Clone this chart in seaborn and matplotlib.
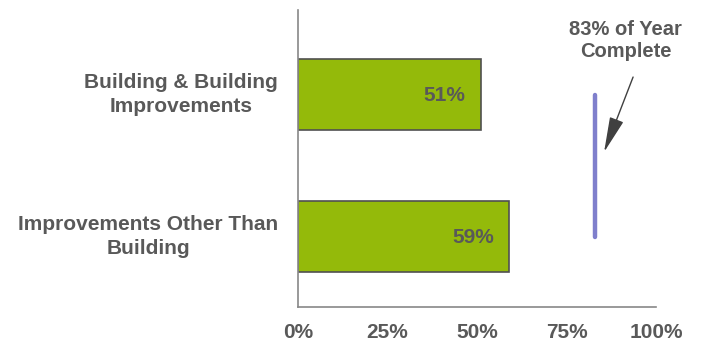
import matplotlib
matplotlib.use("Agg")
import matplotlib.pyplot as plt
import seaborn as sns
import pandas as pd

categories = ["Building & Building\nImprovements", "Improvements Other Than\nBuilding"]
values = [51, 59]
value_labels = ["51%", "59%"]
year_complete = 83
xticks = [0, 25, 50, 75, 100]
xtick_labels = ["0%", "25%", "50%", "75%", "100%"]
annotation = "83% of Year\nComplete"

sns.set_theme(style="white")
plt.rcParams['font.family'] = ['Liberation Sans', 'DejaVu Sans']

gray = "#595959"
green = "#94BA0A"
purple = "#7F7FCC"

df = pd.DataFrame({"cat": categories, "val": values})

fig = plt.figure(figsize=(7.05, 3.47), dpi=100)
ax = fig.add_axes([298/705, 1-307/347, (656-298)/705, (307-10)/347])

sns.barplot(data=df, y="cat", x="val", orient="h", color=green, saturation=1,
            width=0.5, edgecolor="#505050", linewidth=1.2, ax=ax)

for i, (v, lab) in enumerate(zip(values, value_labels)):
    ax.text(v - 4.2, i + 0.01, lab, ha="right", va="center", fontsize=15,
            fontweight="bold", color=gray)

# category labels (drawn as text to control line spacing)
ax.set_yticklabels([])
for i, cat in enumerate(categories):
    ax.text(-20 / 358, i, cat, transform=ax.get_yaxis_transform(),
            ha="right", va="center", multialignment="center",
            fontsize=15, fontweight="bold", color=gray, linespacing=1.33)

ax.plot([year_complete, year_complete], [0, 1], color=purple, lw=3.2,
        solid_capstyle="round", zorder=5)

ax.text(91.6, -0.235, annotation, ha="center", va="bottom", fontsize=14.5,
        fontweight="bold", color=gray, linespacing=1.2, clip_on=False)
ax.annotate("", xy=(85.5, 0.405), xytext=(93.6, -0.123),
            annotation_clip=False,
            arrowprops=dict(arrowstyle="-|>,head_length=2.2,head_width=0.45",
                            mutation_scale=10, color="#404040", lw=1,
                            shrinkA=0, shrinkB=0))

ax.set_xlim(0, 100)
ax.set_ylim(1.496, -0.595)
ax.set_xticks(xticks)
ax.set_xticklabels(xtick_labels, fontsize=15, fontweight="bold", color=gray)
ax.tick_params(axis="x", length=0, pad=11.5)
ax.tick_params(axis="y", length=0)
ax.set_xlabel("")
ax.set_ylabel("")
for s in ["top", "right"]:
    ax.spines[s].set_visible(False)
for s in ["left", "bottom"]:
    ax.spines[s].set_color("#888888")
    ax.spines[s].set_linewidth(1.2)

fig.savefig("out.png", dpi=100)
